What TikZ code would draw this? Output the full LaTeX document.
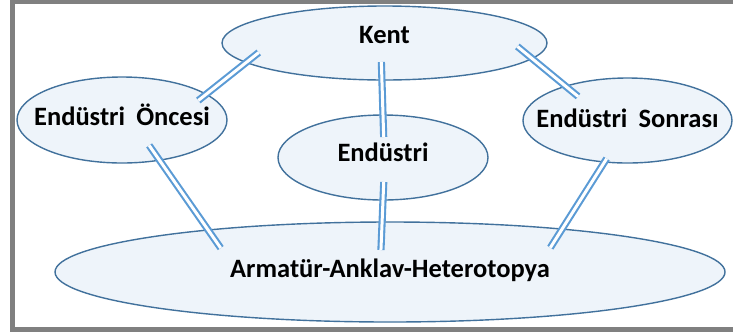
\documentclass[tikz,border=0pt]{standalone}
\usepackage{fontspec}
\setmainfont{Carlito}
\usepackage{tikz}
\usetikzlibrary{shapes.geometric}
\definecolor{blobline}{RGB}{65,113,156}
\definecolor{blobfill}{RGB}{238,244,250}
\definecolor{linkblue}{RGB}{91,155,213}
\definecolor{framegray}{RGB}{128,128,128}
\newcommand{\blobtext}[2]{\raisebox{#1}[0pt][0pt]{\makebox[0pt]{#2}}}

\begin{document}
\begin{tikzpicture}[x=1pt,y=-1pt]
\tikzset{blob/.style={ellipse,draw=blobline,line width=1.4pt,fill=blobfill,inner sep=0pt,outer sep=0pt,font=\fontsize{26.5}{30}\selectfont\bfseries},
link/.style={draw=linkblue,line width=2.1pt,double=white,double distance=3pt}}
\useasboundingbox (0,0) rectangle (733,333);
\draw[framegray,line width=4.5pt] (733,2) -- (12.5,2) -- (12.5,329.5) -- (733,329.5);
\node[blob,minimum width=325pt,minimum height=74pt] (kent) at (384.5,43) {\blobtext{0pt}{Kent}};
\node[blob,minimum width=210pt,minimum height=86pt] (oncesi) at (122,120) {\blobtext{-5pt}{Endüstri\hspace{0.42em}Öncesi}};
\node[blob,minimum width=210pt,minimum height=85pt] (endustri) at (383,157.5) {\blobtext{-4pt}{Endüstri}};
\node[blob,minimum width=209pt,minimum height=85pt] (sonrasi) at (627.5,120.5) {\blobtext{-7pt}{Endüstri\hspace{0.42em}Sonrası}};
\node[blob,minimum width=670pt,minimum height=100pt] (armatur) at (390,272) {\blobtext{-5pt}{Armatür-Anklav-Heterotopya}};
\draw[link,shorten <=-10pt,shorten >=-16pt] (oncesi.17) -- (kent.188);
\draw[link,shorten <=-18pt,shorten >=-22pt] (kent.266) -- (endustri.north);
\draw[link,shorten <=-19pt,shorten >=-16pt] (kent.-6) -- (sonrasi.151);
\draw[link,shorten <=-18pt,shorten >=-22pt] (oncesi.-47) -- (armatur.167);
\draw[link,shorten <=-18pt,shorten >=-28pt] (endustri.south) -- (armatur.99);
\draw[link,shorten <=-4pt,shorten >=-22pt] (sonrasi.241) -- (armatur.14);
\end{tikzpicture}
\end{document}
